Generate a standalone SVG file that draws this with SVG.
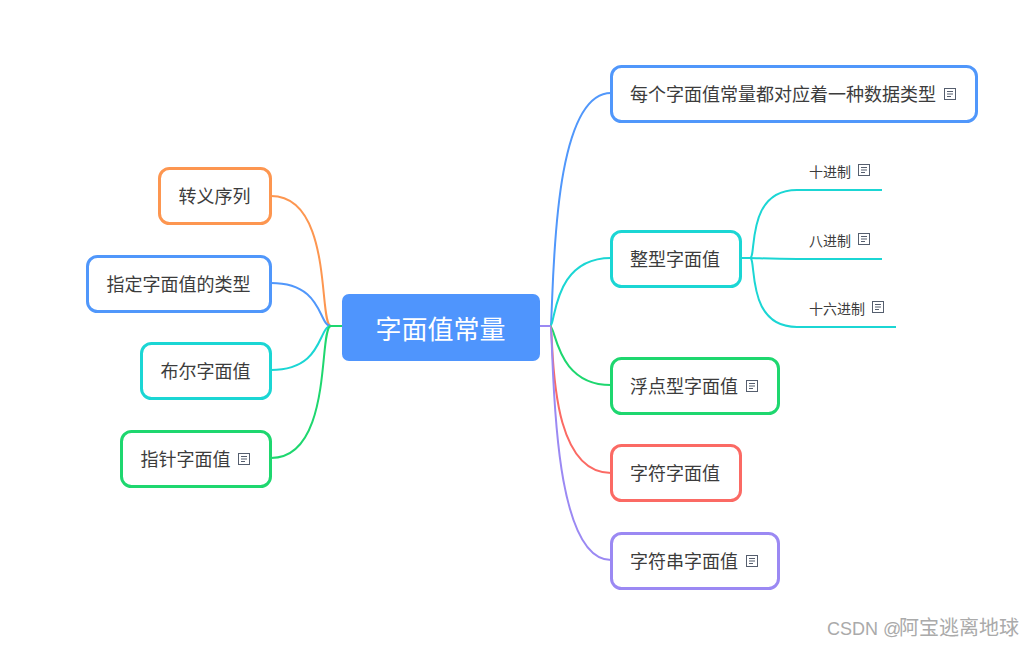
<svg xmlns="http://www.w3.org/2000/svg" width="1034" height="647" viewBox="0 0 1034 647">
<style>
text{font-family:"Noto Sans CJK SC","Liberation Sans",sans-serif;fill:#3c3c3c}
.t{font-size:18px}
.s{font-size:14px}
.box{fill:#fff;stroke-width:3}
.c{fill:none;stroke-width:2}
.blue{stroke:#5097fb}.cyan{stroke:#1bd6d4}.green{stroke:#1ed76f}.red{stroke:#fb6a64}.purple{stroke:#9b89f3}.orange{stroke:#fd9650}
.ic{fill:none;stroke:#555e6e;stroke-width:1}
</style>
<defs>
<g id="note"><rect class="ic" x="0.5" y="0.5" width="11" height="11"/><path class="ic" d="M3 3.5H9M3 6H9M3 8.5H7"/></g>
</defs>
<g id="connectors">
<path class="c orange" d="M331 326C318 326 334 196 271 196"/>
<path class="c blue" d="M331 326C318 326 324 283 271 283"/>
<path class="c cyan" d="M331 326C318 326 324 370 271 370"/>
<path class="c green" d="M342 326H331C318 326 334 458 271 458"/>
<path class="c blue" d="M550 326C555 326 546 93 611 93"/>
<path class="c cyan" d="M550 326C556 326 552 258 611 258"/>
<path class="c green" d="M550 326C556 326 556 385 611 385"/>
<path class="c red" d="M550 326C555 326 544 473 611 473"/>
<path class="c purple" d="M540 326H550C555 326 546 560 611 560"/>
<path class="c cyan" d="M741 258H750C757 258 745 190 797 190H882"/>
<path class="c cyan" d="M741 258H750C757 258 770 259 797 259H882"/>
<path class="c cyan" d="M741 258H750C757 258 745 327 797 327H896"/>
</g>
<g id="root"><rect x="342" y="294" width="198" height="67" rx="7" fill="#4f95fd"/><text x="440.5" y="339" text-anchor="middle" font-size="26" style="fill:#fff">字面值常量</text></g>
<g id="n1"><rect class="box blue" x="611.5" y="66.5" width="365" height="55" rx="10"/><text class="t" x="630" y="101">每个字面值常量都对应着一种数据类型</text><use href="#note" x="944" y="88"/></g>
<g id="n2"><rect class="box cyan" x="611.5" y="231.5" width="129" height="55" rx="10"/><text class="t" x="630" y="266">整型字面值</text></g>
<g id="n3"><rect class="box green" x="611.5" y="358.5" width="167" height="55" rx="10"/><text class="t" x="630" y="393">浮点型字面值</text><use href="#note" x="746" y="380"/></g>
<g id="n4"><rect class="box red" x="611.5" y="445.5" width="129" height="55" rx="10"/><text class="t" x="630" y="480">字符字面值</text></g>
<g id="n5"><rect class="box purple" x="611.5" y="533.5" width="167" height="55" rx="10"/><text class="t" x="630" y="568">字符串字面值</text><use href="#note" x="746" y="555"/></g>
<g id="l1"><rect class="box orange" x="159.5" y="168.5" width="111" height="55" rx="10"/><text class="t" x="178.5" y="203">转义序列</text></g>
<g id="l2"><rect class="box blue" x="87.5" y="256.5" width="183" height="55" rx="10"/><text class="t" x="106.5" y="291">指定字面值的类型</text></g>
<g id="l3"><rect class="box cyan" x="141.5" y="343.5" width="129" height="55" rx="10"/><text class="t" x="160.5" y="378">布尔字面值</text></g>
<g id="l4"><rect class="box green" x="121.5" y="431.5" width="149" height="55" rx="10"/><text class="t" x="140.5" y="466">指针字面值</text><use href="#note" x="238" y="453"/></g>
<g id="s1"><text class="s" x="809" y="177">十进制</text><use href="#note" x="858" y="164"/></g>
<g id="s2"><text class="s" x="809" y="246">八进制</text><use href="#note" x="858" y="233"/></g>
<g id="s3"><text class="s" x="809" y="314">十六进制</text><use href="#note" x="872" y="301"/></g>
<text y="635" style="fill:#aaa;font-family:'Liberation Sans','Noto Sans CJK SC',sans-serif"><tspan x="827" font-size="18">CSDN @</tspan><tspan x="899" font-size="20">阿宝逃离地球</tspan></text>
</svg>
